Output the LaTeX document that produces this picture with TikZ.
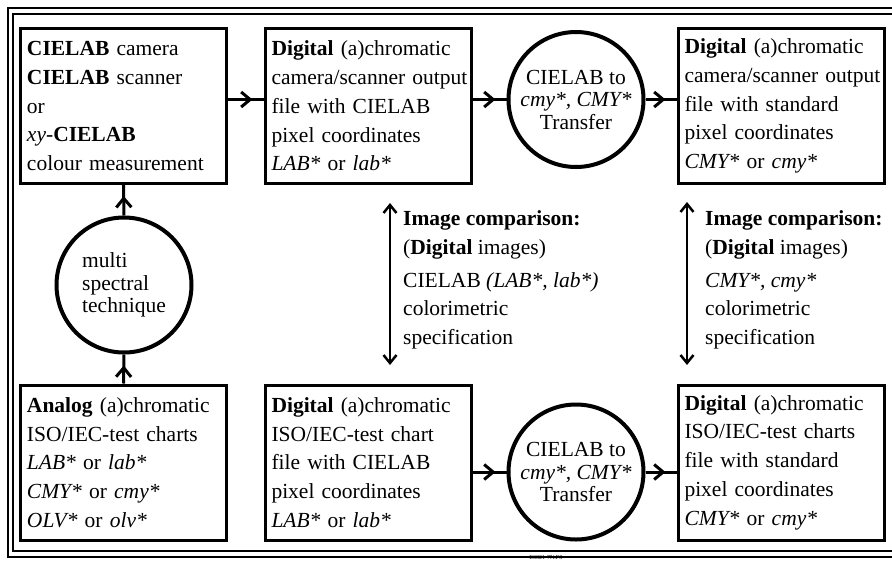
\documentclass[tikz,border=0pt]{standalone}
\usepackage{fontspec}
\setmainfont{Liberation Serif}
\usetikzlibrary{arrows.meta,decorations.markings}
\tikzset{
  box/.style={draw,line width=3pt,minimum height=155pt,text width=193pt,inner xsep=6.5pt,align=left,font=\fontsize{21.5}{28.7}\selectfont},
  conv/.style={draw,circle,line width=4pt,minimum size=135pt,inner sep=0pt,font=\fontsize{21.5}{22.5}\selectfont},
  flow/.style={line width=3pt,postaction={decorate},decoration={markings,mark=at position -11pt with {\arrow{Straight Barb[length=9pt,width=15pt,line width=3pt]}}}},
  both/.style={line width=2.5pt,{Straight Barb[length=8pt,width=13pt,line width=2.5pt]}-{Straight Barb[length=8pt,width=13pt,line width=2.5pt]}},
  note/.style={anchor=west,align=left,inner sep=0pt,font=\fontsize{21.5}{28.7}\selectfont},
  frame/.style={line width=1.3pt}
}
\begin{document}
\begin{tikzpicture}[x=1pt,y=-1pt]
\useasboundingbox (0,0) rectangle (892,560);
\draw[frame] (900,8) -- (8,8) -- (8,557) -- (900,557);
\draw[frame] (900,14) -- (13,14) -- (13,551) -- (900,551);
\node[box] (cam) at (123.5,106) {\textbf{CIELAB} camera\\ \textbf{CIELAB} scanner\\ or\\ \textit{xy}-\textbf{CIELAB}\\ \mbox{colour measurement}};
\node[box] (dig) at (368,106) {\textbf{Digital} (a)chromatic\\ \mbox{camera/scanner output}\\ file with CIELAB\\ pixel coordinates\\ \textit{LAB*} or \textit{lab*}};
\node[conv,align=center] (tconv) at (576,99.5) {CIELAB to\\ \textit{cmy*, CMY*}\\ Transfer};
\node[box] (std) at (781,106) {\textbf{Digital} (a)chromatic\\ \mbox{camera/scanner output}\\ file with standard\\ pixel coordinates\\ \textit{CMY*} or \textit{cmy*}};
\node[conv,align=left] (multi) at (124,285) {multi\\ spectral\\ technique};
\node[box] (ana) at (123.5,462.5) {\textbf{Analog} (a)chromatic\\ ISO/IEC-test charts\\ \textit{LAB*} or \textit{lab*}\\ \textit{CMY*} or \textit{cmy*}\\ \textit{OLV*} or \textit{olv*}};
\node[box] (digc) at (368,462.5) {\textbf{Digital} (a)chromatic\\ ISO/IEC-test chart\\ file with CIELAB\\ pixel coordinates\\ \textit{LAB*} or \textit{lab*}};
\node[conv,align=center] (bconv) at (576,472) {CIELAB to\\ \textit{cmy*, CMY*}\\ Transfer};
\node[box] (stdc) at (781,462.5) {\textbf{Digital} (a)chromatic\\ ISO/IEC-test charts\\ file with standard\\ pixel coordinates\\ \textit{CMY*} or \textit{cmy*}};
\draw[flow] (cam.east |- tconv) -- (dig.west |- tconv);
\draw[flow] (dig.east |- tconv) -- (tconv.west);
\draw[flow] (tconv.east) -- (std.west |- tconv);
\draw[flow] (digc.east |- bconv) -- (bconv.west);
\draw[flow] (bconv.east) -- (stdc.west |- bconv);
\draw[flow] (ana.north) -- (multi.south);
\draw[flow] (multi.north) -- (cam.south);
\node[note] (cmpl) at (403,280) {\textbf{Image comparison:}\\ (\textbf{Digital} images)\\[4pt] CIELAB \textit{(LAB*, lab*)}\\ colorimetric\\ specification};
\node[note] (cmpr) at (705,280) {\textbf{Image comparison:}\\ (\textbf{Digital} images)\\[4pt] \textit{CMY*, cmy*}\\ colorimetric\\ specification};
\coordinate (lt) at (390,203);
\coordinate (lb) at (390,365);
\coordinate (rt) at (687,202);
\coordinate (rb) at (687,365);
\draw[both] (lt) -- (lb);
\draw[both] (rt) -- (rb);
\node[anchor=north,inner sep=0pt,font=\fontsize{6}{7}\selectfont] (code) at (546,555.5) {E6321-7N.PS};
\end{tikzpicture}
\end{document}
